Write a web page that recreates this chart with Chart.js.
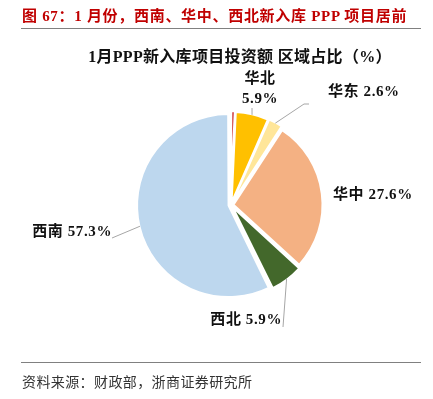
<!DOCTYPE html>
<html>
<head>
<meta charset="utf-8">
<script src="https://cdn.jsdelivr.net/npm/chart.js@4/dist/chart.umd.min.js"></script>
<style>
  html, body { margin:0; padding:0; background:#fff; }
  body { width:433px; height:399px; position:relative; overflow:hidden; }
  #c { position:absolute; left:0; top:0; }
  .t { position:absolute; white-space:nowrap; }
  #hdr { left:22px; top:4px; color:#C00000; font:bold 15px "Liberation Serif","Noto Sans CJK SC",serif; letter-spacing:0.7px; }
  #line1 { left:21px; top:28px; width:400px; height:1px; background:#808080; }
  #ttl { left:40px; width:400px; top:43px; text-align:center; color:#111; font:bold 16px "Liberation Serif","Noto Sans CJK SC",serif; letter-spacing:0.3px; }
  #line2 { left:21px; top:362px; width:400px; height:1px; background:#808080; }
  #src { left:22px; top:371px; color:#333; font:14px "Noto Sans CJK SC",sans-serif; letter-spacing:0.4px; }
</style>
</head>
<body>
<canvas id="c" width="433" height="399"></canvas>
<div class="t" id="hdr">图 67：1 月份，西南、华中、西北新入库 PPP 项目居前</div>
<div class="t" id="line1"></div>
<div class="t" id="ttl">1月PPP新入库项目投资额 区域占比（%）</div>
<div class="t" id="line2"></div>
<div class="t" id="src">资料来源：财政部，浙商证券研究所</div>
<script>
// ---- data ----
const categories = ['东北', '华北', '华东', '华中', '西北', '西南'];
const shares = [0.7, 5.9, 2.6, 27.6, 5.9, 57.3];
const sliceColors = ['#C00000', '#FFC000', '#FFE699', '#F4B183', '#43682B', '#BDD7EE'];

// ---- label layout (positions are style, not data) ----
const labelLayout = {
  '华北': { x: 260, y: [79, 99], align: 'center', end: [252, 108] },
  '华东': { x: 328, y: 92, align: 'left', end: [304, 104], tail: [309, 104] },
  '华中': { x: 333, y: 195, align: 'left' },
  '西北': { x: 282, y: 320, align: 'right', end: [283, 327] },
  '西南': { x: 112, y: 232, align: 'right', end: [112, 238] }
};

const labelPlugin = {
  id: 'pieLabels',
  afterDatasetsDraw(chart) {
    const ctx = chart.ctx;
    const meta = chart.getDatasetMeta(0);
    ctx.save();
    meta.data.forEach((arc, i) => {
      const cat = categories[i];
      const L = labelLayout[cat];
      if (!L) return;
      const p = arc.getProps(['x', 'y', 'startAngle', 'endAngle', 'outerRadius', 'circumference'], true);
      const mid = (p.startAngle + p.endAngle) / 2;
      const off = (arc.options.offset || 0) / 4;
      const fix = 1 - Math.sin(Math.min(Math.PI, p.circumference));
      const r = p.outerRadius + off * fix;
      const sx = p.x + Math.cos(mid) * (off + r - 0.5);
      const sy = p.y + Math.sin(mid) * (off + r - 0.5);
      if (L.end) {
        ctx.strokeStyle = '#A6A6A6';
        ctx.lineWidth = 1;
        ctx.beginPath();
        ctx.moveTo(sx, sy);
        ctx.lineTo(L.end[0], L.end[1]);
        if (L.tail) ctx.lineTo(L.tail[0], L.tail[1]);
        ctx.stroke();
      }
      ctx.fillStyle = '#111';
      ctx.font = 'bold 15px "Liberation Serif", "Noto Sans CJK SC", serif';
      if ('letterSpacing' in ctx) ctx.letterSpacing = '0.6px';
      ctx.textAlign = L.align;
      ctx.textBaseline = 'middle';
      const pct = shares[i].toFixed(1) + '%';
      if (Array.isArray(L.y)) {
        ctx.fillText(cat, L.x, L.y[0]);
        ctx.fillText(pct, L.x, L.y[1]);
      } else {
        ctx.fillText(cat + ' ' + pct, L.x, L.y);
      }
    });
    ctx.restore();
  }
};

new Chart(document.getElementById('c'), {
  type: 'pie',
  data: {
    labels: categories,
    datasets: [{
      data: shares,
      backgroundColor: sliceColors,
      borderColor: '#ffffff',
      borderWidth: 2,
      offset: 10,
      radius: 89
    }]
  },
  options: {
    responsive: false,
    animation: false,
    layout: { padding: { left: 60, right: 31, top: 100, bottom: 89 } },
    plugins: {
      legend: { display: false },
      tooltip: { enabled: false },
      title: { display: false }
    }
  },
  plugins: [labelPlugin]
});
</script>
</body>
</html>
